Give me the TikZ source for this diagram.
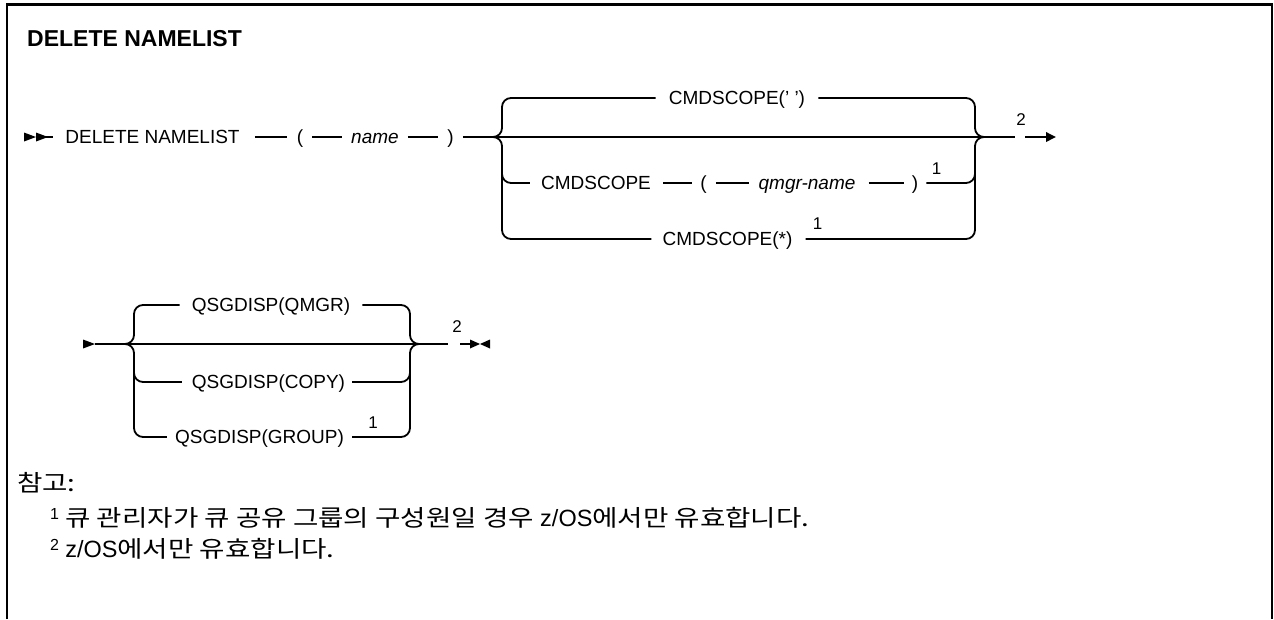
\documentclass[tikz,border=0pt]{standalone}
\usepackage{fontspec}
\setmainfont{Liberation Sans}
\newfontfamily\krfont[FakeStretch=1.2]{Noto Sans CJK KR}
\newcommand\zosname{{\rmfamily\fontsize{23.5}{24}\selectfont z/OS}}
\newcommand\fnmark[1]{\raisebox{7pt}{\rmfamily\fontsize{16}{16}\selectfont #1}}
\usetikzlibrary{arrows.meta}
\begin{document}
\begin{tikzpicture}[x=1pt,y=-1pt,
  rail/.style={line width=1.8pt},
  seg/.style={rail, shorten <=9pt, shorten >=9pt},
  brace/.style={rail, rounded corners=9pt},
  tok/.style={inner sep=0pt, text height=13.6pt, text depth=0pt, font=\fontsize{19}{22}\selectfont},
  var/.style={tok, font=\fontsize{19}{22}\selectfont\itshape},
  supn/.style={inner sep=0pt, font=\fontsize{17}{20}\selectfont},
  ttl/.style={inner sep=0pt, anchor=west, font=\fontsize{23}{27}\selectfont\bfseries},
  note/.style={inner sep=0pt, anchor=base west, font=\krfont\fontsize{23}{27}\selectfont}]
\useasboundingbox (0,0) rectangle (1274,619);
% frame
\draw[line width=2.6pt] (7,619) -- (7,4.5) -- (1272,4.5) -- (1272,619);
% title
\node[ttl] (title) at (27,38.5) {DELETE NAMELIST};

% ---------- row 1 ----------
\coordinate (s1) at (24,137);
\fill (s1) ++(0,-4.5) -- ++(12,4.5) -- ++(-12,4.5) -- cycle;
\fill (s1) ++(12,-4.5) -- ++(12,4.5) -- ++(-12,4.5) -- cycle;
\coordinate (s1a) at (36,137);
\coordinate (s1b) at (53,137);
\draw[rail] (s1a) -- (s1b);
\node[tok] (dn) at (152.5,137) {DELETE NAMELIST};
\node[tok] (lp1) at (300,137) {(};
\node[var] (nm) at (375,137) {name};
\node[tok] (rp1) at (450.5,137) {)};
\draw[rail, shorten <=15pt, shorten >=10pt] (dn.east) -- (lp1.west);
\draw[seg] (lp1.east) -- (nm.west);
\draw[seg] (nm.east) -- (rp1.west);
\coordinate (b1l) at (502,137);
\coordinate (b1r) at (975,137);
\coordinate (e1) at (1015,137);
\draw[rail, shorten <=9pt] (rp1.east) -- (b1l) -- (b1r) -- (e1);
% branch 1: CMDSCOPE(' ')
\node[tok] (c1) at (737,98) {CMDSCOPE(' ')};
\draw[brace, shorten <=13pt] (c1.west) -- (c1.west -| b1l) -- (b1l) -- ++(-12,0);
\draw[brace, shorten <=13pt] (c1.east) -- (c1.east -| b1r) -- (b1r) -- ++(12,0);
% branch 3: CMDSCOPE ( qmgr-name )
\node[tok] (cs) at (596,183) {CMDSCOPE};
\node[tok] (lp3) at (703.5,183) {(};
\node[var] (qm) at (807,183) {qmgr-name};
\node[tok] (rp3) at (915,183) {)};
\node[supn] (f3) at (936.5,168.5) {1};
\draw[brace, shorten <=11pt] (cs.west) -- (cs.west -| b1l) -- ++(0,-14);
\draw[rail, shorten <=12pt, shorten >=8pt] (cs.east) -- (lp3.west);
\draw[seg] (lp3.east) -- (qm.west);
\draw[rail, shorten <=13pt, shorten >=8pt] (qm.east) -- (rp3.west);
\draw[brace, shorten <=8pt] (rp3.east) -- (rp3.east -| b1r) -- ++(0,-14);
% branch 4: CMDSCOPE(*)
\node[tok] (c4) at (727.5,239) {CMDSCOPE(*)};
\node[supn] (f4) at (817.5,224) {1};
\draw[brace, shorten <=11pt] (c4.west) -- (c4.west -| b1l) -- (b1l) -- ++(-12,0);
\draw[brace, shorten <=13pt] (c4.east) -- (c4.east -| b1r) -- (b1r) -- ++(12,0);
% end of row 1
\node[supn] (n1) at (1021,120) {2};
\coordinate (e2) at (1025,137);
\coordinate (t1) at (1056,137);
\draw[rail, -{Triangle[length=10pt,width=9.5pt]}] (e2) -- (t1);

% ---------- row 2 ----------
\coordinate (s2) at (83,344);
\fill (s2) ++(0,-4.5) -- ++(12,4.5) -- ++(-12,4.5) -- cycle;
\coordinate (s2a) at (95,344);
\coordinate (b2l) at (134,344);
\coordinate (b2r) at (410,344);
\coordinate (e3) at (448,344);
\draw[rail] (s2a) -- (b2l) -- (b2r) -- (e3);
\node[tok] (q1) at (271,305) {QSGDISP(QMGR)};
\draw[brace, shorten <=12pt] (q1.west) -- (q1.west -| b2l) -- (b2l) -- ++(-12,0);
\draw[brace, shorten <=12pt] (q1.east) -- (q1.east -| b2r) -- (b2r) -- ++(12,0);
\node[tok] (q3) at (268.5,382) {QSGDISP(COPY)};
\draw[brace, shorten <=10pt] (q3.west) -- (q3.west -| b2l) -- ++(0,-14);
\draw[brace, shorten <=7pt] (q3.east) -- (q3.east -| b2r) -- ++(0,-14);
\node[tok] (q4) at (259.5,437) {QSGDISP(GROUP)};
\node[supn] (f5) at (373,422.5) {1};
\draw[brace, shorten <=8pt] (q4.west) -- (q4.west -| b2l) -- (b2l) -- ++(-12,0);
\draw[brace, shorten <=8pt] (q4.east) -- (q4.east -| b2r) -- (b2r) -- ++(12,0);
\node[supn] (n2) at (457,326.5) {2};
\coordinate (e4) at (460,344);
\coordinate (t2) at (480,344);
\draw[rail] (e4) -- ([xshift=-9pt]t2);
\fill (t2) ++(-10,-4.5) -- ++(10,4.5) -- ++(-10,4.5) -- cycle;
\fill (t2) ++(10,-4.5) -- ++(-10,4.5) -- ++(10,4.5) -- cycle;

% ---------- notes ----------
\node[note] (nh) at (17,491) {참고:};
\node[note] (nt1) at (50,526) {\fnmark{1} 큐 관리자가 큐 공유 그룹의 구성원일 경우 \zosname 에서만 유효합니다.};
\node[note] (nt2) at (50,557) {\fnmark{2} \zosname 에서만 유효합니다.};
\end{tikzpicture}
\end{document}
